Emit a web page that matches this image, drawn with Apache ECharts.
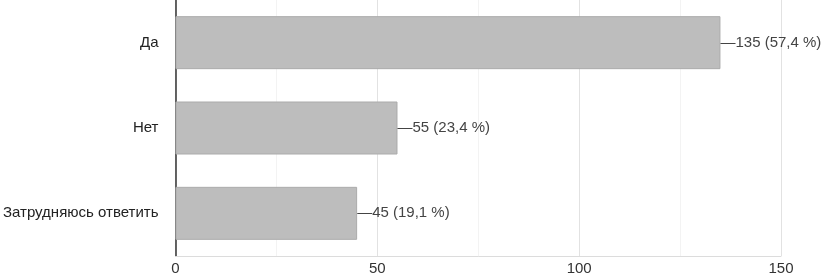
<!DOCTYPE html>
<html>
<head>
<meta charset="utf-8">
<script src="https://cdn.jsdelivr.net/npm/echarts@6/dist/echarts.min.js"></script>
<style>html,body{margin:0;padding:0;background:#fff}#c{width:828px;height:278px}</style>
</head>
<body>
<div id="c"></div>
<script>
const categories = ['Да', 'Нет', 'Затрудняюсь ответить'];
const counts = [135, 55, 45];
const percents = ['57,4', '23,4', '19,1'];
const xTicks = [0, 50, 100, 150];

const chart = echarts.init(document.getElementById('c'), null, {renderer: 'canvas'});
chart.setOption({
  animation: false,
  textStyle: {fontFamily: 'Liberation Sans, Arial, sans-serif'},
  grid: {left: 175, right: 47, top: 0, bottom: 22, containLabel: false},
  xAxis: {
    type: 'value',
    min: xTicks[0], max: xTicks[xTicks.length - 1], interval: 50,
    axisLine: {show: true, lineStyle: {color: '#dcdcdc'}},
    axisTick: {show: false},
    axisLabel: {color: '#333', fontSize: 15, margin: 5},
    splitLine: {show: true, lineStyle: {color: '#e2e2e2'}},
    minorTick: {show: false, splitNumber: 2},
    minorSplitLine: {show: true, lineStyle: {color: '#f3f3f3'}}
  },
  yAxis: {
    type: 'category',
    inverse: true,
    data: categories,
    axisTick: {show: false},
    axisLine: {show: true, lineStyle: {color: '#333', width: 1.5}},
    axisLabel: {color: '#222', fontSize: 15, margin: 17}
  },
  series: [{
    type: 'bar',
    data: counts,
    barWidth: 53,
    itemStyle: {color: '#bdbdbd', borderColor: '#ababab', borderWidth: 1},
    label: {
      show: true,
      position: 'right',
      distance: 0,
      color: '#444',
      fontSize: 15,
      formatter: p => '—' + counts[p.dataIndex] + ' (' + percents[p.dataIndex] + ' %)'
    }
  }]
});
</script>
</body>
</html>
